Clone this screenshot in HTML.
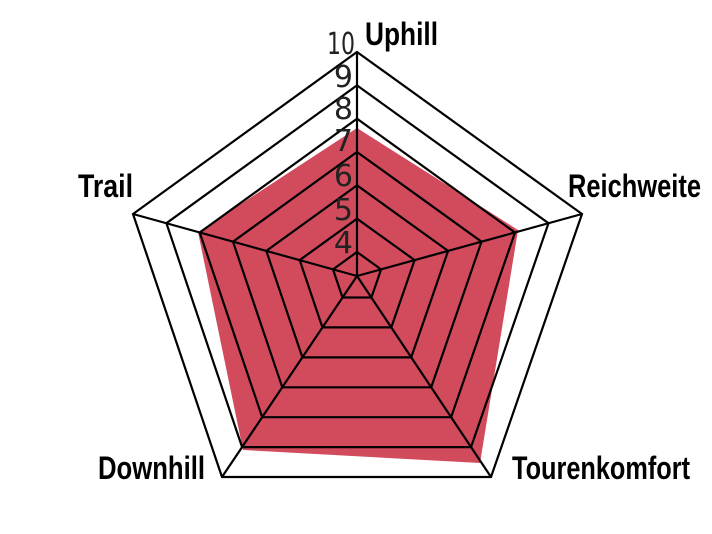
<!DOCTYPE html>
<html><head><meta charset="utf-8"><style>
html,body{margin:0;padding:0;background:#fff;width:712px;height:534px;overflow:hidden}
</style></head><body>
<svg id="s" width="712" height="534" xmlns="http://www.w3.org/2000/svg">
<polygon points="357,128 518,230 480,463 243,450 198,232" fill="#d14b5c"/>
<g id="g" fill="none" stroke="#000" stroke-width="2.2" stroke-linejoin="miter"></g>
<g font-family="Liberation Sans, sans-serif" font-weight="bold" font-size="32" fill="#000">
<text x="365" y="45" textLength="73" lengthAdjust="spacingAndGlyphs">Uphill</text>
<text x="568" y="197" textLength="133" lengthAdjust="spacingAndGlyphs">Reichweite</text>
<text x="78" y="197" textLength="55" lengthAdjust="spacingAndGlyphs">Trail</text>
<text x="98" y="479" textLength="107" lengthAdjust="spacingAndGlyphs">Downhill</text>
<text x="512" y="479" textLength="178" lengthAdjust="spacingAndGlyphs">Tourenkomfort</text>
</g>
<g font-family="DejaVu Sans, sans-serif" font-weight="normal" font-size="30" fill="#222" text-anchor="end">
<text x="355" y="54" textLength="28" lengthAdjust="spacingAndGlyphs">10</text>
<text x="353" y="87">9</text>
<text x="353" y="119">8</text>
<text x="353" y="151">7</text>
<text x="353" y="186">6</text>
<text x="353" y="220">5</text>
<text x="353" y="253">4</text>
</g>
</svg>
<script>
var C=[357,276],V=[[357,52],[582,214],[491,477],[222,477],[133,214]];
var g=document.getElementById('g'),ns='http://www.w3.org/2000/svg';
for(var v=4;v<=10;v++){var f=(24+(v-4)*33.33)/224;
var p=V.map(function(q){return (C[0]+(q[0]-C[0])*f).toFixed(1)+','+(C[1]+(q[1]-C[1])*f).toFixed(1)}).join(' ');
var e=document.createElementNS(ns,'polygon');e.setAttribute('points',p);g.appendChild(e);}
V.forEach(function(q){var l=document.createElementNS(ns,'line');l.setAttribute('x1',C[0]);l.setAttribute('y1',C[1]);l.setAttribute('x2',q[0]);l.setAttribute('y2',q[1]);g.appendChild(l);});
</script>
</body></html>
